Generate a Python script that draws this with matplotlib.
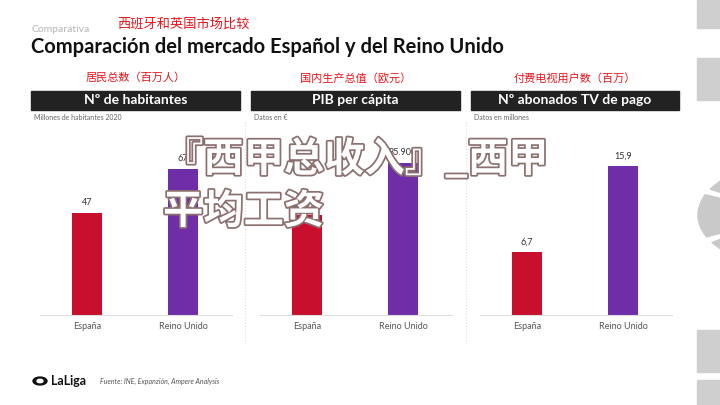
import matplotlib.pyplot as plt
import matplotlib.patheffects as pe
from matplotlib.patches import Rectangle, Wedge, Circle

plt.rcParams['font.family'] = ['Noto Sans CJK SC', 'DejaVu Sans']
LAT = ['Lato', 'DejaVu Sans']

# datos
paises = ['España', 'Reino Unido']
habitantes = [47, 67]            # millones 2020
pib = [23690, 35900]             # euros
abonados_tv = [6.7, 15.9]        # millones
etiquetas_hab = ['47', '67']
etiquetas_pib = ['23.690', '35.900']
etiquetas_tv = ['6,7', '15,9']

cabeceras = ['Nº de habitantes', 'PIB per cápita', 'Nº abonados TV de pago']
cabeceras_cn = ['居民总数（百万人）', '国内生产总值（欧元）', '付费电视用户数（百万）']
subtitulos = ['Millones de habitantes 2020', 'Datos en €', 'Datos en millones']

colores = ['#c8102e', '#6f2da8']

W, H = 720, 405
fig = plt.figure(figsize=(7.2, 4.05), dpi=100)
fig.patch.set_facecolor('white')


def fx(x):
    return x / W


def fy(y):
    return 1 - y / H


# textos de cabecera
fig.text(fx(32), fy(29), 'Comparativa', fontsize=7.5, color='#b5b5b5', va='center', family=LAT)
fig.text(fx(117), fy(24), '西班牙和英国市场比较', fontsize=9.5, color='#e8141c', va='center',
         fontweight='medium')
fig.text(fx(31), fy(47), 'Comparación del mercado Español y del Reino Unido', fontsize=14.5,
         fontweight='bold', color='#111111', va='center', family=LAT)

# paneles: (x izq cabecera, x der cabecera, centro barra España)
paneles = [(31, 240, 87), (251, 460, 307), (471, 679, 527)]
series = [habitantes, pib, abonados_tv]
etiquetas = [etiquetas_hab, etiquetas_pib, etiquetas_tv]
px_por_unidad = [146 / 67, 152 / 35900, 149 / 15.9]

base_y, top_y = 315, 130
sep = 96  # px entre barras

for i, (x0, x1, c0) in enumerate(paneles):
    # titulo rojo en chino
    fig.text(fx((x0 + x1) / 2), fy(78), cabeceras_cn[i], fontsize=8, color='#e8141c',
             ha='center', va='center', fontweight='medium')
    # barra negra con el titulo
    fig.patches.append(Rectangle((fx(x0), fy(110)), fx(x1 - x0), 19 / H,
                                 transform=fig.transFigure, color='#222222', zorder=1))
    fig.text(fx((x0 + x1) / 2), fy(100.5), cabeceras[i], fontsize=10, color='white',
             ha='center', va='center', fontweight='bold', family=LAT)
    fig.text(fx(x0 + 3), fy(118), subtitulos[i], fontsize=5, color='#666666', va='center',
             family=LAT)

    # ejes con las barras
    left, right = c0 - 47, c0 + 145
    ax = fig.add_axes([fx(left), fy(base_y), fx(right - left), (base_y - top_y) / H])
    ax.set_xlim(-47 / sep, 145 / sep)
    ax.set_ylim(0, (base_y - top_y) / px_por_unidad[i])
    bars = ax.bar([0, 1], series[i], width=30 / sep, color=colores, zorder=2)
    for bar, lab in zip(bars, etiquetas[i]):
        ax.annotate(lab, (bar.get_x() + bar.get_width() / 2, bar.get_height()),
                    xytext=(0, 4), textcoords='offset points', ha='center', va='bottom',
                    fontsize=6.5, color='#333333', family=LAT)
    ax.set_xticks([0, 1])
    ax.set_xticklabels(paises, fontsize=6.5, color='#555555', family=LAT)
    ax.tick_params(axis='x', length=0, pad=5)
    ax.set_yticks([])
    for s in ['top', 'left', 'right']:
        ax.spines[s].set_visible(False)
    ax.spines['bottom'].set_color('#dddddd')
    ax.spines['bottom'].set_linewidth(0.8)
    ax.patch.set_alpha(0)

# separadores punteados
for xs in [245, 466]:
    fig.lines.append(plt.Line2D([fx(xs), fx(xs)], [fy(122), fy(345)], transform=fig.transFigure,
                                color='#dcdcdc', linestyle=':', linewidth=0.8))

# decoracion gris a la derecha (trozo del logo)
for r0, r1 in [(70, 92)]:
    for a0, a1 in [(100, 150), (157, 205), (212, 262)]:
        fig.patches.append(Wedge((fx(790), fy(215)), r1 / W, a0, a1, width=(r1 - r0) / W,
                                 transform=fig.transFigure, color='#c9c9c9', zorder=0))
for y0, y1 in [(0, 28), (58, 100), (330, 372), (380, 405)]:
    fig.patches.append(Rectangle((fx(697), fy(y1)), fx(30), (y1 - y0) / H,
                                 transform=fig.transFigure, color='#cfcfcf', zorder=0))

# pie
fig.patches.append(Circle((fx(40), fy(381)), 7 / W, transform=fig.transFigure, color='#111111'))
fig.patches.append(Circle((fx(40), fy(381)), 3 / W, transform=fig.transFigure, color='white'))
fig.text(fx(51), fy(381), 'LaLiga', fontsize=9, fontweight='bold', color='#111111', va='center',
         family=LAT)
fig.text(fx(100), fy(381), 'Fuente: INE, Expanzión, Ampere Analysis', fontsize=5, style='italic',
         color='#555555', va='center', family=LAT)

# texto superpuesto
efecto = [pe.withStroke(linewidth=2.5, foreground='#8c6f6f')]
fig.text(fx(163), fy(160), '『西甲总收入』_西甲', fontsize=29, color='white', va='center',
         fontweight='bold', path_effects=efecto, zorder=10)
fig.text(fx(163), fy(212), '平均工资', fontsize=29, color='white', va='center',
         fontweight='bold', path_effects=efecto, zorder=10)

fig.savefig('out.png', dpi=100)
